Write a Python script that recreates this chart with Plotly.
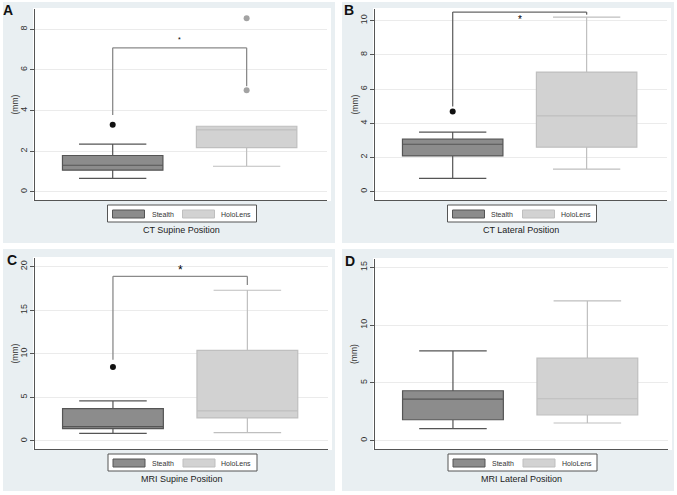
import plotly.graph_objects as go

W, H = 677, 495

groups = ["Stealth", "HoloLens"]
panel_titles = ["CT Supine Position", "CT Lateral Position",
                "MRI Supine Position", "MRI Lateral Position"]
panel_letters = ["A", "B", "C", "D"]

# box statistics per panel: [Stealth, HoloLens]
lower = [[0.66, 1.26], [0.78, 1.31], [0.88, 0.96], [1.04, 1.53]]
q1 = [[1.07, 2.18], [2.09, 2.60], [1.42, 2.65], [1.81, 2.22]]
median = [[1.31, 3.05], [2.77, 4.43], [1.65, 3.45], [3.60, 3.63]]
q3 = [[1.79, 3.23], [3.07, 6.99], [3.72, 10.40], [4.32, 7.14]]
upper = [[2.35, 3.23], [3.48, 10.20], [4.61, 17.30], [7.77, 12.09]]
outliers = [[[3.30], [5.00, 8.55]], [[4.69], []], [[8.48], []], [[], []]]

# significance brackets: (left start, top, right end), None = no bracket
brackets = [(3.78, 7.09, 5.20), (4.98, 10.50, 10.35), (9.33, 18.90, 17.90), None]
bracket_color = ["#8a8a8a", "#666666", "#8a8a8a", None]
star_y = [7.5, 10.05, 19.6, None]
star_size = [7, 10, 12, None]

y_ranges = [[-0.4, 9.0], [-0.49, 10.68], [-0.92, 21.0], [-0.72, 15.72]]
y_ticks = [[0, 2, 4, 6, 8], [0, 2, 4, 6, 8, 10], [0, 5, 10, 15, 20], [0, 5, 10, 15]]

# pixel layout of each panel: outer bg box and plot area (x0, x1, y0, y1)
bg_px = [(3, 335, 2, 243), (342, 674, 2, 243), (3, 335, 249, 491), (342, 674, 249, 491)]
plot_px = [(35, 327, 9, 200), (375, 667, 9, 200), (35, 328, 258, 449), (375, 668, 259, 449)]
letter_px = [(8, 10), (349, 10), (12, 260), (350, 261)]

fill = ["#8c8c8c", "#d2d2d2"]
edge = ["#555555", "#bfbfbf"]
dot = ["#111111", "#a3a3a3"]
BG = "#e9eff2"


def px(x):
    return x / W


def py(y):
    return 1 - y / H


fig = go.Figure()
shapes = []
annotations = []

for i in range(4):
    xa = "x" if i == 0 else f"x{i + 1}"
    ya = "y" if i == 0 else f"y{i + 1}"
    x0, x1, y0, y1 = plot_px[i]
    for g in range(2):
        fig.add_trace(go.Box(
            x=[g], q1=[q1[i][g]], median=[median[i][g]], q3=[q3[i][g]],
            lowerfence=[lower[i][g]], upperfence=[upper[i][g]],
            width=0.75, whiskerwidth=0.67, boxpoints=False,
            fillcolor=fill[g], line=dict(color=edge[g], width=1.2),
            name=groups[g], showlegend=False, hoverinfo="skip",
            xaxis=xa, yaxis=ya))
        if outliers[i][g]:
            fig.add_trace(go.Scatter(
                x=[g] * len(outliers[i][g]), y=outliers[i][g], mode="markers",
                marker=dict(color=dot[g], size=6), showlegend=False,
                hoverinfo="skip", xaxis=xa, yaxis=ya))

    if brackets[i]:
        a, top, b = brackets[i]
        for (xs, ys, xe, ye) in [(0, a, 0, top), (0, top, 1, top), (1, top, 1, b)]:
            shapes.append(dict(type="line", xref=xa, yref=ya, x0=xs, y0=ys, x1=xe, y1=ye,
                               line=dict(color=bracket_color[i], width=1.3), layer="above"))
        annotations.append(dict(x=0.5, y=star_y[i], xref=xa, yref=ya, text="*",
                                showarrow=False, font=dict(size=star_size[i], color="#000")))

    ax = dict(domain=[px(x0), px(x1)], range=[-0.58, 1.6], showticklabels=False,
              showgrid=False, zeroline=False, showline=True, linecolor="#555",
              linewidth=1, ticks="", fixedrange=True)
    ay = dict(domain=[py(y1), py(y0)], range=y_ranges[i], tickvals=y_ticks[i],
              tickangle=-90, ticks="outside", ticklen=4, tickcolor="#555",
              ticklabelstandoff=-1,
              tickfont=dict(size=9, color="#333"), showgrid=True, gridcolor="#ebebeb",
              zeroline=False, showline=True, linecolor="#555", linewidth=1)
    suffix = "" if i == 0 else str(i + 1)
    ax["anchor"] = "y" + suffix
    ay["anchor"] = "x" + suffix
    fig.update_layout(**{"xaxis" + suffix: ax, "yaxis" + suffix: ay})

    # y-axis title, placed like the original
    annotations.append(dict(x=px(x0 - 21), y=py((y0 + y1) / 2), xref="paper", yref="paper",
                            text="(mm)", textangle=-90, showarrow=False, xanchor="center",
                            yanchor="middle", font=dict(size=8.5, color="#333")))

    # panel background
    bx0, bx1, by0, by1 = bg_px[i]
    shapes.append(dict(type="rect", xref="paper", yref="paper", x0=px(bx0), x1=px(bx1),
                       y0=py(by1), y1=py(by0), fillcolor=BG, line=dict(width=0), layer="below"))
    # white plot region (slightly larger than axes)
    shapes.append(dict(type="rect", xref="paper", yref="paper", x0=px(x0 - 2), x1=px(x1 + 4),
                       y0=py(y1 + 1), y1=py(y0 - 1), fillcolor="white", line=dict(width=0),
                       layer="below"))

    # legend box
    cx = (x0 + x1) / 2 + 1
    lx0, lx1 = cx - 74.5, cx + 74.5
    ly0, ly1 = y1 + 5, y1 + 22
    shapes.append(dict(type="rect", xref="paper", yref="paper", x0=px(lx0), x1=px(lx1),
                       y0=py(ly1), y1=py(ly0), fillcolor="white",
                       line=dict(color="#555", width=1), layer="below"))
    sw_x = [lx0 + 5, lx0 + 75]
    txt_x = [lx0 + 42, lx0 + 111.5]
    for g in range(2):
        shapes.append(dict(type="rect", xref="paper", yref="paper", x0=px(sw_x[g]),
                           x1=px(sw_x[g] + 32), y0=py(ly0 + 13), y1=py(ly0 + 5),
                           fillcolor=fill[g], line=dict(color=edge[g], width=1), layer="below"))
        annotations.append(dict(x=px(txt_x[g]), y=py(ly0 + 9), xref="paper", yref="paper",
                                text=groups[g], showarrow=False, xanchor="left",
                                yanchor="middle", font=dict(size=7, color="#333")))
    annotations.append(dict(x=px((x0 + x1) / 2), y=py(y1 + 30), xref="paper", yref="paper",
                            text=panel_titles[i], showarrow=False, xanchor="center",
                            yanchor="middle", font=dict(size=9, color="#222")))
    lxp, lyp = letter_px[i]
    annotations.append(dict(x=px(lxp), y=py(lyp), xref="paper", yref="paper",
                            text="<b>" + panel_letters[i] + "</b>", showarrow=False,
                            xanchor="center", yanchor="middle",
                            font=dict(size=14, color="#111", family="Liberation Sans")))

fig.update_layout(
    width=W, height=H, margin=dict(l=0, r=0, t=0, b=0),
    paper_bgcolor="white", plot_bgcolor="white",
    font=dict(family="Liberation Sans, Arial, sans-serif"),
    shapes=shapes, annotations=annotations, showlegend=False,
)

fig.write_html("out.html", config={"displayModeBar": False},
               post_script="document.body.style.margin='0';")
